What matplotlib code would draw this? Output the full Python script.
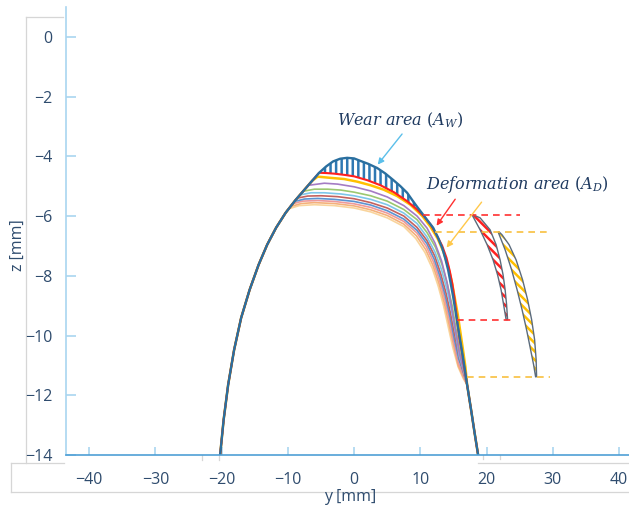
import matplotlib
matplotlib.use("Agg")
import matplotlib.pyplot as plt
import numpy as np
from matplotlib.lines import Line2D
from matplotlib.patches import Polygon

plt.rcParams["font.family"] = ["Open Sans", "DejaVu Sans"]
plt.rcParams["mathtext.fontset"] = "dejavuserif"
plt.rcParams["hatch.linewidth"] = 1.8

# shared left flank of the rail profile (y, z in mm)
left_y = [-20.23, -19.70, -19.02, -18.12, -17.06, -15.78, -14.42, -13.13, -11.78,
          -10.34, -8.83, -7.47, -6.34]
left_z = [-14.0, -12.82, -11.65, -10.48, -9.41, -8.47, -7.63, -6.96, -6.39,
          -5.89, -5.46, -5.11, -4.82]
# shared foot on the right
tail_y = [17.66, 18.19, 18.72]
tail_z = [-12.49, -13.26, -14.0]

# original profile, head and gauge side
orig_y = [-5.28, -4.23, -3.17, -2.11, -1.06, 0.0, 0.91, 2.11, 3.47, 4.68, 5.89, 6.94,
          8.0, 8.76, 9.51, 10.27, 11.02, 11.93, 12.68, 13.29, 13.74, 14.19, 14.57,
          14.95, 15.32, 15.70, 16.15, 16.61, 17.06]
orig_z = [-4.55, -4.34, -4.17, -4.08, -4.05, -4.07, -4.15, -4.25, -4.39, -4.57, -4.79,
          -4.99, -5.22, -5.46, -5.69, -5.91, -6.13, -6.39, -6.73, -7.06, -7.40, -7.80,
          -8.24, -8.70, -9.21, -9.74, -10.34, -10.98, -11.65]

red_y = [-5.28, -4.2, -3.0, -1.5, 0.0, 2.0, 4.0, 6.0, 8.0, 9.5, 10.6, 11.6, 12.5, 13.3,
         13.95, 14.45, 14.85, 15.15, 15.4, 15.6, 15.9, 16.3, 16.65, 17.06]
red_z = [-4.55, -4.56, -4.58, -4.62, -4.67, -4.8, -4.97, -5.2, -5.5, -5.78, -6.02, -6.3,
         -6.65, -7.0, -7.4, -7.85, -8.3, -8.75, -9.2, -9.6, -10.1, -10.6, -11.1, -11.65]

yel_y = [-5.5, -3.6, -1.5, 0.5, 2.5, 4.5, 6.5, 8.5, 10.3, 11.5, 12.6, 13.5, 14.2,
         14.75, 15.2, 15.65, 16.05, 16.45, 16.8, 17.06]
yel_z = [-4.68, -4.72, -4.76, -4.85, -4.97, -5.12, -5.33, -5.62, -6.0, -6.35, -6.75,
         -7.2, -7.7, -8.2, -8.75, -9.3, -9.9, -10.5, -11.05, -11.65]

pur_y = [-6.9, -4.5, -2.5, 0.0, 2.5, 5.0, 7.5, 9.5, 11.0, 12.2, 13.2, 14.0, 14.6,
         15.2, 15.9, 16.6, 17.06]
pur_z = [-4.97, -4.9, -4.93, -5.02, -5.16, -5.36, -5.65, -6.0, -6.4, -6.9, -7.5,
         -8.2, -8.9, -9.7, -10.6, -11.2, -11.65]

grn_y = [-7.7, -6.0, -4.0, -2.0, 0.0, 2.5, 5.0, 7.5, 9.5, 11.0, 12.3, 13.3, 14.1,
         14.8, 15.4, 16.0, 16.6, 17.06]
grn_z = [-5.17, -5.1, -5.1, -5.13, -5.2, -5.32, -5.5, -5.78, -6.12, -6.55, -7.05,
         -7.65, -8.3, -9.0, -9.8, -10.6, -11.2, -11.65]

lbl_y = [-8.15, -6.5, -4.5, -2.0, 0.0, 2.5, 5.0, 7.5, 9.5, 11.0, 12.2, 13.2, 14.0,
         14.7, 15.3, 15.9, 16.6, 17.06]
lbl_z = [-5.29, -5.22, -5.22, -5.26, -5.32, -5.44, -5.62, -5.9, -6.25, -6.7, -7.2,
         -7.8, -8.45, -9.15, -9.9, -10.7, -11.25, -11.65]

brn_y = [-8.6, -7.0, -5.0, -2.5, 0.0, 2.5, 5.0, 7.5, 9.5, 11.0, 12.2, 13.1, 13.9,
         14.6, 15.2, 15.9, 16.6, 17.06]
brn_z = [-5.4, -5.33, -5.32, -5.35, -5.42, -5.55, -5.73, -6.0, -6.38, -6.82, -7.35,
         -7.95, -8.6, -9.3, -10.0, -10.75, -11.3, -11.65]

bl2_y = [-9.0, -7.5, -5.5, -3.0, 0.0, 2.5, 5.0, 7.5, 9.5, 11.0, 12.1, 13.0, 13.8,
         14.5, 15.1, 15.8, 16.6, 17.06]
bl2_z = [-5.51, -5.43, -5.41, -5.44, -5.51, -5.63, -5.82, -6.1, -6.48, -6.93, -7.45,
         -8.05, -8.7, -9.4, -10.1, -10.8, -11.3, -11.65]

pnk_y = [-9.3, -7.8, -5.5, -3.0, 0.0, 2.5, 5.0, 7.5, 9.5, 10.9, 12.0, 12.9, 13.7,
         14.4, 15.0, 15.7, 16.5, 17.06]
pnk_z = [-5.59, -5.5, -5.48, -5.51, -5.59, -5.71, -5.9, -6.18, -6.57, -7.02, -7.55,
         -8.15, -8.8, -9.5, -10.2, -10.9, -11.35, -11.65]

org_y = [-9.6, -8.0, -6.0, -3.0, 0.0, 2.5, 5.0, 7.5, 9.4, 10.8, 11.9, 12.8, 13.6,
         14.3, 15.0, 15.7, 16.5, 17.06]
org_z = [-5.68, -5.58, -5.55, -5.58, -5.66, -5.79, -5.98, -6.27, -6.66, -7.12, -7.65,
         -8.25, -8.9, -9.6, -10.3, -11.0, -11.4, -11.65]

lor_y = [-9.9, -8.3, -6.0, -3.0, 0.0, 2.5, 5.0, 7.5, 9.3, 10.7, 11.8, 12.7, 13.5,
         14.2, 14.9, 15.7, 16.5, 17.06]
lor_z = [-5.76, -5.65, -5.62, -5.65, -5.73, -5.86, -6.06, -6.35, -6.75, -7.22, -7.75,
         -8.35, -9.0, -9.7, -10.4, -11.05, -11.45, -11.65]

# extracted deformation areas (outline points, mm)
red_area_y = [17.81, 19.02, 20.08, 20.98, 21.66, 22.19, 22.57, 22.95, 23.17, 23.02,
              22.80, 22.49, 22.04, 21.44, 20.53, 19.02, 17.96]
red_area_z = [-5.96, -6.46, -6.96, -7.47, -7.97, -8.47, -8.97, -9.47, -9.47, -8.97,
              -8.47, -7.97, -7.47, -6.96, -6.46, -6.06, -5.96]
yel_area_y = [21.74, 22.80, 23.78, 24.61, 25.36, 26.04, 26.65, 27.10, 27.40, 27.55,
              27.48, 27.25, 26.80, 26.19, 25.44, 24.46, 23.40, 22.34, 21.89]
yel_area_z = [-6.53, -7.13, -7.80, -8.47, -9.14, -9.81, -10.48, -10.98, -11.38, -11.38,
              -10.81, -10.14, -9.47, -8.80, -8.14, -7.47, -6.96, -6.63, -6.53]

# dashed level lines: z, y start, y end
red_levels = [(-5.96, 10.4, 25.1), (-9.47, 15.6, 24.2)]
yel_levels = [(-6.52, 12.2, 29.6), (-11.38, 17.1, 29.6)]

W, H = 629, 509
fig = plt.figure(figsize=(W / 100, H / 100), dpi=100)
ax = fig.add_axes([66 / W, (H - 455) / H, (W - 66) / W, (455 - 7) / H])
ax.set_xlim(-43.5, 41.5)
ax.set_ylim(-14, 1)


def profile(top_y, top_z):
    ly = np.array(left_y)
    lz = np.array(left_z)
    keep = ly < top_y[0]
    y = np.concatenate([ly[keep], top_y, tail_y])
    z = np.concatenate([lz[keep], top_z, tail_z])
    return y, z


worn = [
    (lor_y, lor_z, "#f9d49c"),
    (org_y, org_z, "#f4b07a"),
    (pnk_y, pnk_z, "#ee9a9a"),
    (bl2_y, bl2_z, "#5c93d1"),
    (brn_y, brn_z, "#c4615e"),
    (lbl_y, lbl_z, "#7dc6ea"),
    (grn_y, grn_z, "#9cc870"),
    (pur_y, pur_z, "#a47cc4"),
]
for ty, tz, c in worn:
    y, z = profile(ty, tz)
    ax.plot(y, z, color=c, lw=1.2)

y, z = profile(yel_y, yel_z)
ax.plot(y, z, color="#ffc000", lw=1.8)
ry, rz = profile(red_y, red_z)
ax.plot(ry, rz, color="#ff2020", lw=1.5)

# wear area between original and first worn profile
oy, oz = profile(orig_y, orig_z)
m1 = (oy > -5.5) & (oy <= 10.6) & (oz > -6.1)
m2 = (ry > -5.5) & (ry <= 10.6) & (rz > -6.1)
wy = np.concatenate([oy[m1], ry[m2][::-1]])
wz = np.concatenate([oz[m1], rz[m2][::-1]])
ax.add_patch(Polygon(np.column_stack([wy, wz]), closed=True, facecolor="white",
                     edgecolor="#2f78b3", hatch="|||", lw=0))

ax.plot(oy, oz, color="#2a6f9f", lw=1.7)

# dashed levels
for zz, y0, y1 in red_levels:
    ax.plot([y0, y1], [zz, zz], color="#ff3030", lw=1.2, ls=(0, (4, 3)))
for zz, y0, y1 in yel_levels:
    ax.plot([y0, y1], [zz, zz], color="#f8c040", lw=1.2, ls=(0, (4, 3)))

# extracted deformation areas
for ay, az, c in [(red_area_y, red_area_z, "#ff2020"), (yel_area_y, yel_area_z, "#ffc000")]:
    pts = np.column_stack([ay, az])
    ax.add_patch(Polygon(pts, closed=True, facecolor="white", edgecolor=c,
                         hatch="\\\\\\\\", lw=0))
    ax.add_patch(Polygon(pts, closed=True, fill=False, edgecolor="#5b6b7c", lw=1.0))

# arrows
ax.annotate("", xy=(3.3, -4.35), xytext=(7.5, -3.18),
            arrowprops=dict(arrowstyle="-|>", color="#5bbfea", lw=1.0, mutation_scale=9))
ax.annotate("", xy=(12.2, -6.4), xytext=(15.5, -5.36),
            arrowprops=dict(arrowstyle="-|>", color="#ff3030", lw=1.0, mutation_scale=9))
ax.annotate("", xy=(13.7, -7.13), xytext=(19.5, -5.46),
            arrowprops=dict(arrowstyle="-|>", color="#ffc84a", lw=1.0, mutation_scale=9))

ax.text(6.9, -2.78, r"$Wear\ area\ (A_W)$", color="#1f3a60", fontsize=11.5,
        ha="center", va="center")
ax.text(24.6, -4.95, r"$Deformation\ area\ (A_D)$", color="#1f3a60", fontsize=11.5,
        ha="center", va="center",
        bbox=dict(facecolor="white", edgecolor="none", pad=1))

# axes styling
for s in ["top", "right"]:
    ax.spines[s].set_visible(False)
ax.spines["left"].set_color("#a9d5f0")
ax.spines["bottom"].set_color("#4f9fd6")
ax.spines["left"].set_linewidth(1.2)
ax.spines["bottom"].set_linewidth(1.2)
ax.set_xticks(range(-40, 41, 10))
ax.set_yticks(range(-14, 1, 2))
ax.tick_params(axis="x", direction="in", length=6, width=1.2, color="#a9d5f0",
               labelcolor="#2f4c6e", labelsize=11.5, pad=12)
ax.tick_params(axis="y", direction="in", length=7, width=1.2, color="#a9d5f0",
               labelcolor="#2f4c6e", labelsize=11.5, pad=10)
ax.set_xlabel("y [mm]", color="#2f4c6e", fontsize=11.5)
ax.set_ylabel("z [mm]", color="#2f4c6e", fontsize=11.5)
ax.xaxis.set_label_coords(0.504, -0.077)
ax.yaxis.set_label_coords(-0.071, 0.469)

# light frame edges left over from the composed figure
frame = [
    (26, 17, 63, 17), (26, 17, 26, 463),
    (11, 463, 64, 463), (11, 463, 11, 492), (11, 492, 629, 492), (478, 463, 629, 463),
    (211, 119, 299, 119), (299, 105, 299, 119), (299, 105, 508, 105),
    (211, 119, 211, 443), (202, 443, 219, 443), (202, 443, 202, 460), (219, 443, 219, 460),
    (508, 105, 508, 133), (495, 133, 508, 133), (495, 133, 495, 443),
    (483, 443, 500, 443), (483, 443, 483, 459), (500, 443, 500, 459),
    (495, 169, 623, 169), (623, 169, 623, 197),
]
for x0, y0, x1, y1 in frame:
    fig.add_artist(Line2D([x0 / W, x1 / W], [1 - y0 / H, 1 - y1 / H],
                          color="#d6d6d6", lw=0.9, zorder=0))

fig.savefig("out.png", dpi=100)
